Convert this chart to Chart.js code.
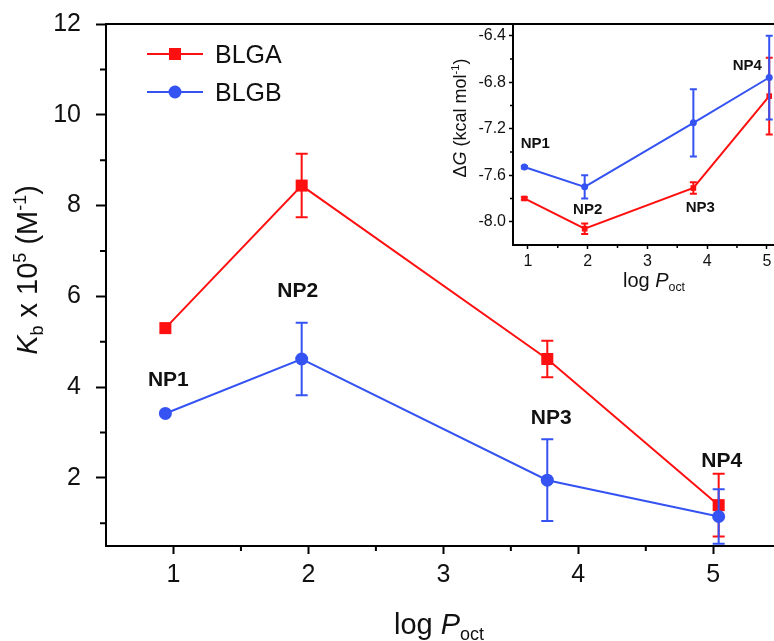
<!DOCTYPE html>
<html><head><meta charset="utf-8">
<script src="https://cdn.jsdelivr.net/npm/chart.js@4/dist/chart.umd.min.js"></script>
<style>
html,body{margin:0;padding:0;background:#fff;overflow:hidden}
#wrap{position:relative;width:774px;height:641px;background:#fff}
#main{position:absolute;left:0;top:0}
#inset{position:absolute;left:400px;top:0}
</style></head><body>
<div id="wrap"><canvas id="main" width="774" height="641"></canvas><canvas id="inset" width="374" height="300"></canvas></div>
<script>
// ---------- data ----------
const compounds = ['NP1', 'NP2', 'NP3', 'NP4'];
const logPoct = [0.94, 1.95, 3.77, 5.04];
const kbBLGA = [5.30, 8.44, 4.62, 1.40];
const kbBLGAErr = [0, 0.70, 0.40, 0.69];
const kbBLGB = [3.42, 4.62, 1.95, 1.15];
const kbBLGBErr = [0, 0.80, 0.90, 0.60];
const dgBLGA = [-7.80, -8.06, -7.71, -6.92];
const dgBLGAErr = [0.01, 0.045, 0.05, 0.33];
const dgBLGB = [-7.53, -7.70, -7.15, -6.76];
const dgBLGBErr = [0.01, 0.10, 0.29, 0.36];
const mainXTicks = [1, 2, 3, 4, 5];
const mainXMinor = [1.5, 2.5, 3.5, 4.5];
const mainYTicks = [2, 4, 6, 8, 10, 12];
const mainYMinor = [1, 3, 5, 7, 9, 11];
const insetXTicks = [1, 2, 3, 4, 5];
const insetXMinor = [1.5, 2.5, 3.5, 4.5];
const insetYTicks = [-8.0, -7.6, -7.2, -6.8, -6.4];
const insetYMinor = [-7.8, -7.4, -7.0, -6.6];
const seriesNames = ['BLGA', 'BLGB'];

// ---------- styles ----------
const RED = '#ff1010';
const BLUE = '#3553f2';
const FONT = '"Liberation Sans", Arial, Helvetica, sans-serif';

function pts(xs, ys) { return xs.map((x, i) => ({ x: x, y: ys[i] })); }

function richText(ctx, x, y, parts, size, align, rotate) {
  ctx.save();
  ctx.translate(x, y);
  if (rotate) ctx.rotate(-Math.PI / 2);
  const fontFor = (p) => {
    const s = p.pos ? size * 0.62 : size;
    return (p.it ? 'italic ' : '') + (p.b ? 'bold ' : '') + s + 'px ' + FONT;
  };
  let w = 0;
  const ws = parts.map(p => { ctx.font = fontFor(p); const m = ctx.measureText(p.t).width; w += m; return m; });
  let cx = align === 'center' ? -w / 2 : 0;
  ctx.textBaseline = 'alphabetic';
  ctx.textAlign = 'left';
  ctx.fillStyle = '#111';
  parts.forEach((p, i) => {
    ctx.font = fontFor(p);
    const dy = p.pos === 'sub' ? size * 0.22 : (p.pos === 'sup' ? -size * 0.38 : 0);
    ctx.fillText(p.t, cx, dy);
    cx += ws[i];
  });
  ctx.restore();
}

const errorBars = {
  id: 'errorBars',
  beforeDatasetDraw(chart, args, opts) {
    const ds = chart.data.datasets[args.index];
    if (!ds.errors) return;
    const xs = chart.scales.x, ys = chart.scales.y, ctx = chart.ctx;
    ctx.save();
    ctx.strokeStyle = ds.borderColor;
    ctx.lineWidth = opts.width;
    ds.data.forEach((p, i) => {
      const e = ds.errors[i];
      if (!e) return;
      const px = xs.getPixelForValue(p.x);
      const t = ys.getPixelForValue(p.y + e), b = ys.getPixelForValue(p.y - e);
      ctx.beginPath();
      ctx.moveTo(px, t); ctx.lineTo(px, b);
      ctx.moveTo(px - opts.cap, t); ctx.lineTo(px + opts.cap, t);
      ctx.moveTo(px - opts.cap, b); ctx.lineTo(px + opts.cap, b);
      ctx.stroke();
    });
    ctx.restore();
  }
};

const frame = {
  id: 'frame',
  afterDraw(chart, args, o) {
    const ctx = chart.ctx, a = chart.chartArea, xs = chart.scales.x, ys = chart.scales.y;
    ctx.save();
    ctx.strokeStyle = '#000';
    // top border
    ctx.lineWidth = o.border;
    ctx.beginPath(); ctx.moveTo(a.left - o.border / 2, a.top); ctx.lineTo(chart.width, a.top); ctx.stroke();
    // minor ticks
    ctx.lineWidth = o.tickWidth;
    ctx.beginPath();
    o.xMinor.forEach(v => { const p = xs.getPixelForValue(v); ctx.moveTo(p, a.bottom); ctx.lineTo(p, a.bottom + o.xMinorLen); });
    o.yMinor.forEach(v => { const p = ys.getPixelForValue(v); ctx.moveTo(a.left, p); ctx.lineTo(a.left - o.yMinorLen, p); });
    ctx.stroke();
    // point labels
    ctx.fillStyle = '#111';
    ctx.font = 'bold ' + o.labelSize + 'px ' + FONT;
    ctx.textAlign = 'center';
    ctx.textBaseline = 'middle';
    o.labels.forEach((l, i) => {
      const ds = chart.data.datasets[l.ds];
      const p = ds.data[i];
      ctx.fillText(compounds[i], xs.getPixelForValue(p.x) + l.dx, ys.getPixelForValue(p.y) + l.dy);
    });
    // titles
    o.titles.forEach(t => richText(ctx, t.x, t.y, t.parts, t.size, 'center', t.rotate));
    // legend
    if (o.legend) {
      chart.data.datasets.slice().sort((p, q) => p.legendIdx - q.legendIdx).forEach((ds, k) => {
        const y = a.top + o.legend.y0 + k * o.legend.dy;
        const x0 = a.left + o.legend.x0;
        ctx.strokeStyle = ds.borderColor; ctx.lineWidth = 2;
        ctx.beginPath(); ctx.moveTo(x0, y); ctx.lineTo(x0 + o.legend.len, y); ctx.stroke();
        ctx.fillStyle = ds.borderColor;
        const cx = x0 + o.legend.len / 2;
        if (ds.pointStyle === 'rect') { ctx.fillRect(cx - 6, y - 6, 12, 12); }
        else { ctx.beginPath(); ctx.arc(cx, y, 6.5, 0, Math.PI * 2); ctx.fill(); }
        ctx.fillStyle = '#111';
        ctx.font = o.legend.size + 'px ' + FONT;
        ctx.textAlign = 'left'; ctx.textBaseline = 'alphabetic';
        ctx.fillText(ds.label, x0 + o.legend.len + 12, y + 9);
      });
    }
    ctx.restore();
  }
};

function axisCfg(min, max, ticks, fixed, isX, s) {
  return {
    type: 'linear', min: min, max: max,
    afterBuildTicks: sc => { sc.ticks = ticks.map(v => ({ value: v })); },
    afterFit: sc => {
      if (isX) sc.height = fixed; else sc.width = fixed;
      sc.paddingLeft = 0; sc.paddingRight = 0; sc.paddingTop = 0; sc.paddingBottom = 0;
    },
    grid: { drawOnChartArea: false, drawTicks: true, tickLength: s.tickLen, tickWidth: s.tickWidth, tickColor: '#000' },
    border: { display: true, color: '#000', width: s.border },
    ticks: {
      font: { size: s.font, family: FONT }, color: '#111', padding: s.pad, maxRotation: 0, autoSkip: false,
      callback: v => s.fmt ? Number(v).toFixed(1) : String(v)
    }
  };
}

Chart.defaults.animation = false;

new Chart(document.getElementById('main'), {
  type: 'scatter',
  data: {
    datasets: [
      { label: seriesNames[1], legendIdx: 1, data: pts(logPoct, kbBLGB), errors: kbBLGBErr, showLine: true, borderColor: BLUE, backgroundColor: BLUE,
        borderWidth: 2, pointStyle: 'circle', pointRadius: 6.5, pointBorderWidth: 0, order: 0 },
      { label: seriesNames[0], legendIdx: 0, data: pts(logPoct, kbBLGA), errors: kbBLGAErr, showLine: true, borderColor: RED, backgroundColor: RED,
        borderWidth: 2, pointStyle: 'rect', pointRadius: 8.5, pointBorderWidth: 0, order: 1 }
    ]
  },
  options: {
    responsive: false, devicePixelRatio: 1,
    layout: { autoPadding: false, padding: { top: 24, left: 0, right: 0, bottom: 0 } },
    scales: {
      x: axisCfg(0.5, 5.45, mainXTicks, 95, true, { tickLen: 8, tickWidth: 2, border: 2, font: 25, pad: 6 }),
      y: axisCfg(0.5, 12, mainYTicks, 106, false, { tickLen: 10, tickWidth: 2, border: 2, font: 25, pad: 15 })
    },
    plugins: {
      legend: { display: false }, tooltip: { enabled: false },
      errorBars: { width: 2, cap: 6 },
      frame: {
        border: 2, tickWidth: 2, xMinor: mainXMinor, yMinor: mainYMinor, xMinorLen: 5, yMinorLen: 6,
        labelSize: 21,
        labels: [{ ds: 0, dx: 3, dy: -33 }, { ds: 0, dx: -4, dy: -68 }, { ds: 0, dx: 4, dy: -62 }, { ds: 1, dx: 3, dy: -44 }],
        titles: [
          { x: 439, y: 634, size: 29, parts: [{ t: 'log ' }, { t: 'P', it: true }, { t: 'oct', pos: 'sub' }] },
          { x: 37, y: 270, size: 29, rotate: true, parts: [{ t: 'K', it: true }, { t: 'b', pos: 'sub' }, { t: ' x 10' }, { t: '5', pos: 'sup' }, { t: ' (M' }, { t: '-1', pos: 'sup' }, { t: ')' }] }
        ],
        legend: { x0: 41, y0: 30, dy: 38, len: 56, size: 25 }
      }
    }
  },
  plugins: [errorBars, frame]
});

new Chart(document.getElementById('inset'), {
  type: 'scatter',
  data: {
    datasets: [
      { label: seriesNames[1], data: pts(logPoct, dgBLGB), errors: dgBLGBErr, showLine: true, borderColor: BLUE, backgroundColor: BLUE,
        borderWidth: 2, pointStyle: 'circle', pointRadius: 3.5, pointBorderWidth: 0, order: 0 },
      { label: seriesNames[0], data: pts(logPoct, dgBLGA), errors: dgBLGAErr, showLine: true, borderColor: RED, backgroundColor: RED,
        borderWidth: 2, pointStyle: 'rect', pointRadius: 4, pointBorderWidth: 0, order: 1 }
    ]
  },
  options: {
    responsive: false, devicePixelRatio: 1,
    layout: { autoPadding: false, padding: { top: 24, left: 0, right: 0, bottom: 0 } },
    scales: {
      x: axisCfg(0.75, 5.12, insetXTicks, 55, true, { tickLen: 4, tickWidth: 1.5, border: 2, font: 16, pad: 3 }),
      y: axisCfg(-8.2, -6.3, insetYTicks, 113, false, { tickLen: 4, tickWidth: 1.5, border: 2, font: 16, pad: 3, fmt: true })
    },
    plugins: {
      legend: { display: false }, tooltip: { enabled: false },
      errorBars: { width: 2, cap: 3.5 },
      frame: {
        border: 2, tickWidth: 1.5, xMinor: insetXMinor, yMinor: insetYMinor, xMinorLen: 3, yMinorLen: 3,
        labelSize: 15,
        labels: [{ ds: 0, dx: 11, dy: -23 }, { ds: 1, dx: 3, dy: -19 }, { ds: 1, dx: 7, dy: 20 }, { ds: 0, dx: -22, dy: -12 }],
        titles: [
          { x: 254, y: 287, size: 20, parts: [{ t: 'log ' }, { t: 'P', it: true }, { t: 'oct', pos: 'sub' }] },
          { x: 66, y: 118, size: 18, rotate: true, parts: [{ t: '\u0394' }, { t: 'G', it: true }, { t: ' (kcal mol' }, { t: '-1', pos: 'sup' }, { t: ')' }] }
        ]
      }
    }
  },
  plugins: [errorBars, frame]
});
</script>
</body></html>
